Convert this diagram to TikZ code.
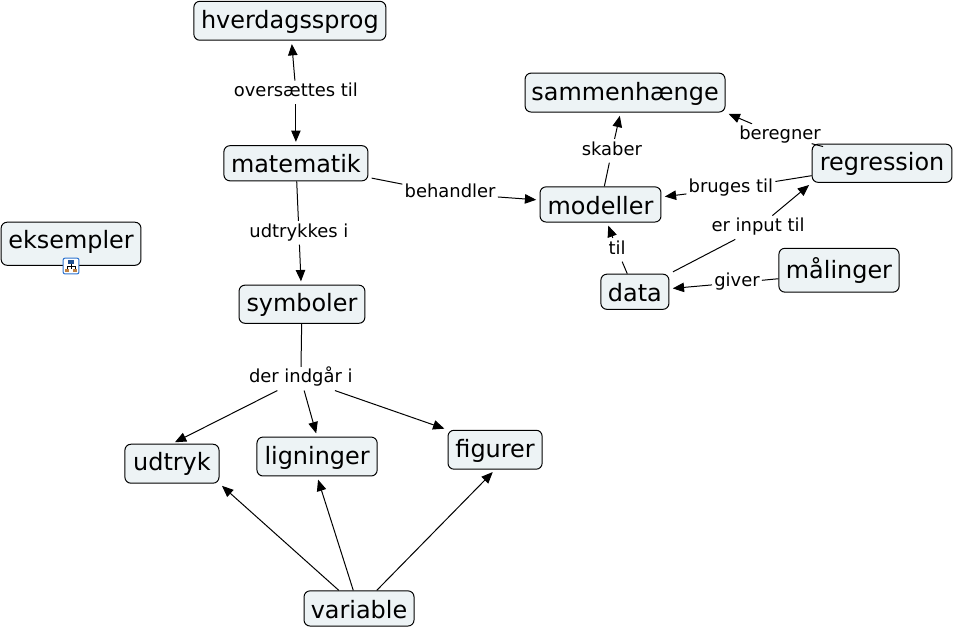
\documentclass[tikz,border=0pt]{standalone}
\usepackage{fontspec}
\setmainfont{DejaVu Sans}
\usetikzlibrary{arrows.meta,calc}
\definecolor{boxfill}{HTML}{EDF3F5}
\definecolor{iconblue}{HTML}{2F74D0}
\begin{document}
\begin{tikzpicture}[
        concept/.style={
            rectangle,
            draw=black,
            line width=0.75pt,
            rounded corners=4.5pt,
            fill=boxfill,
            align=center,
            inner sep=0pt,
            text height=15.5pt,
            text depth=4pt,
            font=\fontsize{18}{20}\selectfont
        },
        lowtext/.style={text height=18.5pt},
        linkword/.style={
            inner sep=1.5pt,
            text height=10.5pt,
            text depth=4pt,
            font=\fontsize{13.5}{15}\selectfont
        },
        link/.style={draw=black, line width=0.75pt},
        rel/.style={link, -{Triangle[length=3mm,width=2.5mm]}, shorten >=2.5pt},
        iconbox/.style={draw=iconblue, line width=0.75pt, rounded corners=1.5pt, fill=white, minimum size=0.42cm, inner sep=0pt}
    ]
        \useasboundingbox (0,0) rectangle (25.27,16.62);

        \node[concept, minimum width=5.08cm, minimum height=1.03cm] (hverdagssprog) at (7.67,16.07) {hverdagssprog};
        \node[concept, minimum width=5.29cm, minimum height=1.03cm] (sammenhaenge)  at (16.54,14.17) {sammenhænge};
        \node[concept, lowtext, minimum width=3.81cm, minimum height=0.93cm] (matematik) at (7.83,12.30) {matematik};
        \node[concept, minimum width=3.70cm, minimum height=1.01cm] (regression)    at (23.34,12.30) {regression};
        \node[concept, lowtext, minimum width=3.20cm, minimum height=0.93cm] (modeller) at (15.89,11.21) {modeller};
        \node[concept, text height=14pt, text depth=7pt, minimum width=3.70cm, minimum height=1.14cm] (eksempler) at (1.88,10.17) {eksempler};
        \node[concept, lowtext, minimum width=1.80cm, minimum height=0.93cm] (data) at (16.80,8.90) {data};
        \node[concept, text height=17pt, minimum width=3.18cm, minimum height=1.16cm] (maalinger) at (22.20,9.47) {målinger};
        \node[concept, minimum width=3.33cm, minimum height=1.01cm] (symboler)      at (7.99,8.57) {symboler};
        \node[concept, text height=14pt, minimum width=2.49cm, minimum height=1.03cm] (udtryk) at (4.55,4.35) {udtryk};
        \node[concept, minimum width=3.18cm, minimum height=1.03cm] (ligninger)     at (8.39,4.54) {ligninger};
        \node[concept, minimum width=2.49cm, minimum height=1.03cm] (figurer)       at (13.10,4.72) {figurer};
        \node[concept, lowtext, minimum width=2.91cm, minimum height=0.93cm] (variable) at (9.50,0.52) {variable};

        \node[linkword] (oversaettes) at (7.83,14.17) {oversættes til};
        \node[linkword] (behandler)   at (11.91,11.50) {behandler};
        \node[linkword] (udtrykkes)   at (7.91,10.46) {udtrykkes i};
        \node[linkword] (indgaar)     at (7.96,6.60) {der indgår i};
        \node[linkword] (skaber)      at (16.19,12.63) {skaber};
        \node[linkword] (beregner)    at (20.64,13.03) {beregner};
        \node[linkword] (bruges)      at (19.34,11.63) {bruges til};
        \node[linkword] (input)       at (20.06,10.60) {er input til};
        \node[linkword] (til)         at (16.33,10.01) {til};
        \node[linkword] (giver)       at (19.50,9.14) {giver};

        \node[iconbox] (ikon) at (1.88,9.58) {};
        \draw[black, line width=0.4pt] ($(ikon.center)+(0,0.06)$) -- ($(ikon.center)+(0,-0.08)$);
        \draw[black, line width=0.4pt] ($(ikon.center)+(-0.11,-0.08)$) -- ($(ikon.center)+(-0.11,-0.01)$) -- ($(ikon.center)+(0.11,-0.01)$) -- ($(ikon.center)+(0.11,-0.08)$);
        \fill[iconblue!70!black] ($(ikon.center)+(-0.07,0.05)$) rectangle ($(ikon.center)+(0.07,0.17)$);
        \fill[brown] ($(ikon.center)+(-0.17,-0.17)$) rectangle ($(ikon.center)+(-0.06,-0.07)$);
        \fill[brown] ($(ikon.center)+(0.06,-0.17)$) rectangle ($(ikon.center)+(0.17,-0.07)$);

        \draw[rel] (oversaettes) -- (hverdagssprog);
        \draw[rel] (oversaettes) -- (matematik);

        \draw[link, shorten <=2.5pt] (matematik) -- (behandler);
        \draw[rel] (behandler) -- (modeller);
        \draw[link] (matematik) -- (udtrykkes);
        \draw[rel] (udtrykkes) -- (symboler);

        \draw[link] (symboler) -- (indgaar);
        \draw[rel] (indgaar) -- (udtryk.north);
        \draw[rel] (indgaar) -- (ligninger.north);
        \draw[rel] (indgaar) -- (figurer.north west);

        \draw[rel] (variable) -- (udtryk.south east);
        \draw[rel] (variable) -- (ligninger.south);
        \draw[rel] (variable) -- (figurer.south);

        \draw[link] (modeller) -- (skaber);
        \draw[rel] (skaber) -- (sammenhaenge);
        \draw[link] (regression.north west) -- (beregner);
        \draw[rel] (beregner) -- (sammenhaenge.south east);
        \draw[link] (regression.190) -- (bruges);
        \draw[rel] (bruges) -- (modeller.7);
        \draw[link, shorten <=3pt] (data.north east) -- (input);
        \draw[rel] (input) -- (regression.south west);
        \draw[link] (data) -- (til);
        \draw[rel] (til) -- (modeller);
        \draw[link] (maalinger.188) -- (giver);
        \draw[rel] (giver) -- (data);
    \end{tikzpicture}
\end{document}
